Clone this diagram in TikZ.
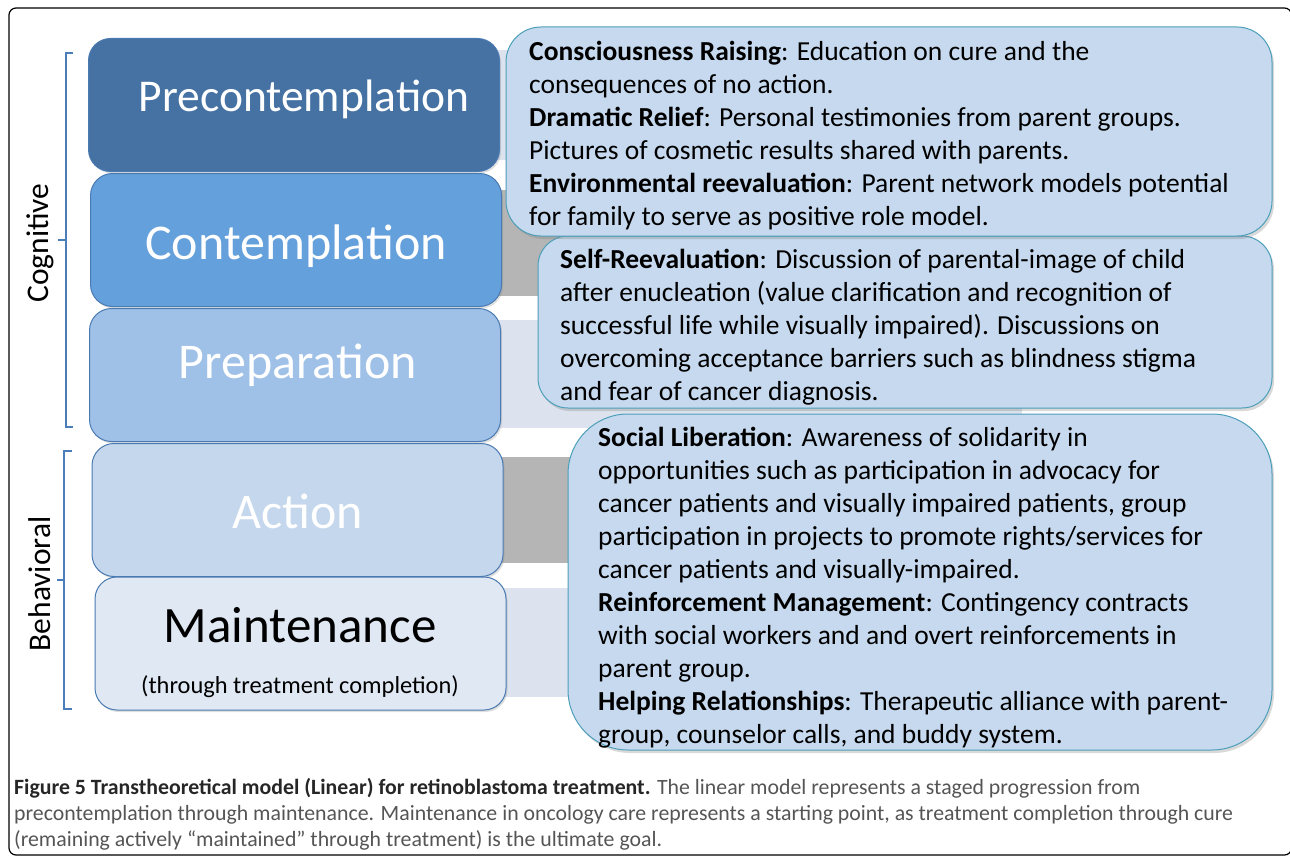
\documentclass[tikz,border=0pt]{standalone}
\usepackage{fontspec}
\setmainfont{Carlito}
\usetikzlibrary{shadows}
\definecolor{precol}{HTML}{4672A3}
\definecolor{contcol}{HTML}{64A0DB}
\definecolor{prepcol}{HTML}{9FC1E7}
\definecolor{actcol}{HTML}{C5D7EC}
\definecolor{maincol}{HTML}{DFE8F3}
\definecolor{stageline}{HTML}{4A7AB2}
\definecolor{callfill}{HTML}{C6D9EE}
\definecolor{callline}{HTML}{4C9FB9}
\definecolor{darkbar}{HTML}{B5B5B5}
\definecolor{lightbar}{HTML}{DDE3EE}
\definecolor{bracecol}{HTML}{4A7EBB}
\definecolor{capgray}{HTML}{555555}
\tikzset{
  stagebox/.style={draw=stageline, line width=1pt, rounded corners=22pt,
    minimum width=411pt, minimum height=133pt, inner sep=0pt,
    drop shadow={shadow xshift=1.5pt, shadow yshift=-2pt, opacity=0.25}},
  stagetext/.style={anchor=base, inner sep=0pt, text=white,
    font=\fontsize{50}{56}\selectfont},
  callbox/.style={draw=callline, line width=1pt, fill=callfill, inner sep=0pt,
    drop shadow={shadow xshift=2pt, shadow yshift=-3pt, opacity=0.3}},
  calltext/.style={anchor=north west, inner sep=0pt, align=left,
    font=\fontsize{27.5}{33}\selectfont},
  brace/.style={draw=bracecol, line width=2pt},
  bracelabel/.style={rotate=90, inner sep=0pt, font=\fontsize{31.5}{34}\selectfont}
}
\begin{document}
\begin{tikzpicture}[x=1pt, y=-1pt]
  \useasboundingbox (0,0) rectangle (1290,856);
  \draw[line width=1.2pt, rounded corners=7pt] (9,8) rectangle (1291.5,855);

  \fill[lightbar] (495,50) rectangle (1022,160);
  \fill[darkbar] (495,190) rectangle (1022,296);
  \fill[lightbar] (495,320) rectangle (1022,428);
  \fill[darkbar] (495,457) rectangle (1022,563);
  \fill[lightbar] (495,588) rectangle (1022,697);

  \node[stagebox, fill=precol] (precon) at (294,105) {};
  \node[stagebox, fill=contcol] (contem) at (296,240) {};
  \node[stagebox, fill=prepcol] (prepar) at (295,375) {};
  \node[stagebox, fill=actcol] (action) at (297.5,510) {};
  \node[stagebox, fill=maincol] (mainten) at (300.5,643.5) {};

  \node[stagetext, font=\fontsize{45.5}{50}\selectfont] (precon-t) at (304,111.5) {Precontemplation};
  \node[stagetext] (contem-t) at (296,259) {Contemplation};
  \node[stagetext] (prepar-t) at (297.5,378) {Preparation};
  \node[stagetext] (action-t) at (297.5,528) {Action};
  \node[stagetext, text=black, font=\fontsize{51}{56}\selectfont] (mainten-t) at (300,642) {Maintenance};
  \node[stagetext, text=black, font=\fontsize{24.4}{28}\selectfont] (mainten-s) at (300,693) {(through treatment completion)};

  \node[callbox, rounded corners=60pt, minimum width=704pt, minimum height=336pt] (liberation) at (920,582) {};
  \node[callbox, rounded corners=30pt, minimum width=734pt, minimum height=172pt] (selfreev) at (905,322) {};
  \node[callbox, rounded corners=35pt, minimum width=766pt, minimum height=209pt] (raising) at (889,131.5) {};

  \node[calltext] (raising-t) at (529,41.5) {\textbf{Consciousness Raising}: Education on cure and the\\
    consequences of no action.\\
    \textbf{Dramatic Relief}: Personal testimonies from parent groups.\\
    Pictures of cosmetic results shared with parents.\\
    \textbf{Environmental reevaluation}: Parent network models potential\\
    for family to serve as positive role model.};
  \node[calltext] (selfreev-t) at (560,248.5) {\textbf{Self-Reevaluation}: Discussion of parental-image of child\\
    after enucleation (value clarification and recognition of\\
    successful life while visually impaired). Discussions on\\
    overcoming acceptance barriers such as blindness stigma\\
    and fear of cancer diagnosis.};
  \node[calltext] (liberation-t) at (598,427) {\textbf{Social Liberation}: Awareness of solidarity in\\
    opportunities such as participation in advocacy for\\
    cancer patients and visually impaired patients, group\\
    participation in projects to promote rights/services for\\
    cancer patients and visually-impaired.\\
    \textbf{Reinforcement Management}: Contingency contracts\\
    with social workers and and overt reinforcements in\\
    parent group.\\
    \textbf{Helping Relationships}: Therapeutic alliance with parent-\\
    group, counselor calls, and buddy system.};

  \coordinate (cog-top) at (73,53);
  \coordinate (cog-bot) at (73,427);
  \coordinate (cog-mid) at (58,240);
  \draw[brace] (cog-top) -- (66,53) -- (66,427) -- (cog-bot);
  \draw[brace] (66,240) -- (cog-mid);
  \node[bracelabel] (cognitive) at (40,243) {Cognitive};

  \coordinate (beh-top) at (72,451);
  \coordinate (beh-bot) at (72,709);
  \coordinate (beh-mid) at (57,580);
  \draw[brace] (beh-top) -- (64,451) -- (64,709) -- (beh-bot);
  \draw[brace] (64,580) -- (beh-mid);
  \node[bracelabel] (behavioral) at (40,584) {Behavioral};

  \node[anchor=north west, inner sep=0pt, align=left, text=capgray,
    font=\fontsize{21.8}{26}\selectfont] (caption) at (14,778)
    {\textcolor{black!85}{\textbf{Figure 5 Transtheoretical model (Linear) for retinoblastoma treatment.}} The linear model represents a staged progression from\\
    precontemplation through maintenance. Maintenance in oncology care represents a starting point, as treatment completion through cure\\
    (remaining actively “maintained” through treatment) is the ultimate goal.};
\end{tikzpicture}
\end{document}
